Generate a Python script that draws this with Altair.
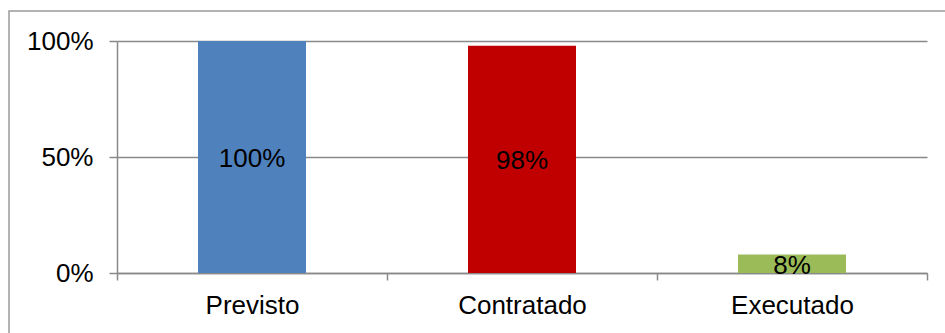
import altair as alt
import pandas as pd

# Budget execution shares
stages = ["Previsto", "Contratado", "Executado"]
shares = [1.00, 0.98, 0.08]
colors = ["#4F81BD", "#C00000", "#9BBB59"]

df = pd.DataFrame({"stage": stages, "share": shares, "color": colors})

GRAY = "#898989"
FONT = "Liberation Sans"

x_enc = alt.X(
    "stage:N",
    sort=stages,
    title=None,
    scale=alt.Scale(paddingInner=0, paddingOuter=0),
    axis=alt.Axis(
        labelAngle=0,
        labelFont=FONT,
        labelFontSize=26,
        labelColor="#000000",
        labelPadding=12,
        tickBand="extent",
        tickSize=7,
        tickColor=GRAY,
        tickWidth=1.5,
        domainColor=GRAY,
        domainWidth=1.5,
        grid=False,
    ),
)

bars = alt.Chart(df).mark_bar(width=alt.RelativeBandSize(0.4)).encode(
    x=x_enc,
    y=alt.Y(
        "share:Q",
        title=None,
        scale=alt.Scale(domain=[0, 1], nice=False),
        axis=alt.Axis(
            values=[0, 0.5, 1],
            format=".0%",
            labelFont=FONT,
            labelFontSize=26,
            labelColor="#000000",
            labelPadding=16,
            tickSize=8,
            tickColor=GRAY,
            tickWidth=1.5,
            domainColor=GRAY,
            domainWidth=1.5,
            gridColor=GRAY,
            gridWidth=1.5,
        ),
    ),
    color=alt.Color("color:N", scale=None, legend=None),
)

labels = (
    alt.Chart(df)
    .transform_calculate(mid="datum.share / 2")
    .mark_text(font=FONT, fontSize=26, color="#000000", baseline="middle", dy=2)
    .encode(
        x=alt.X("stage:N", sort=stages),
        y=alt.Y("mid:Q"),
        text=alt.Text("share:Q", format=".0%"),
    )
)

# outer chart frame
frame = (
    alt.Chart(pd.DataFrame({"k": [0]}))
    .mark_rect(filled=False, stroke="#9a9a9a", strokeWidth=1.5)
    .encode(
        x=alt.value(-108),
        x2=alt.value(840),
        y=alt.value(-30),
        y2=alt.value(310),
    )
)

chart = (
    alt.layer(frame, bars, labels)
    .properties(
        width=810,
        height=232,
        padding={"left": 117, "top": 41, "right": 18, "bottom": 60},
        autosize=alt.AutoSizeParams(type="none"),
        background="#ffffff",
    )
    .configure_view(stroke=None)
)

chart.save("out.html", embed_options={"renderer": "svg", "actions": False})
